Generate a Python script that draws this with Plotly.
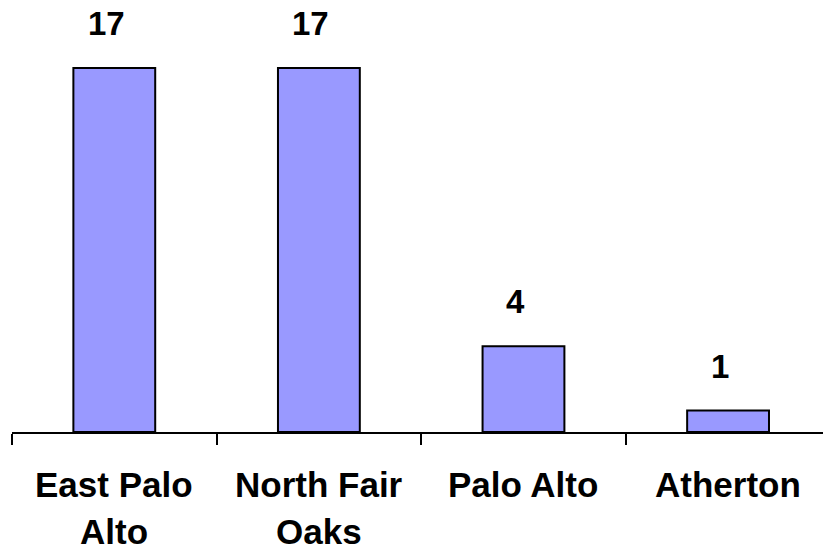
import plotly.graph_objects as go

cities = ["East Palo Alto", "North Fair Oaks", "Palo Alto", "Atherton"]
label_line1 = ["East Palo", "North Fair", "Palo Alto", "Atherton"]
label_line2 = ["Alto", "Oaks", "", ""]
counts = [17, 17, 4, 1]

FONT = "Liberation Sans, Arial, sans-serif"

fig = go.Figure(go.Bar(
    x=cities,
    y=counts,
    width=0.4,
    marker=dict(color="#9999FF", line=dict(color="black", width=2)),
))

# value labels above bars (sit a little left of bar centre, as in the source)
for city, n in zip(cities, counts):
    fig.add_annotation(
        x=city, y=n, text=f"<b>{n}</b>",
        showarrow=False, yanchor="bottom", yshift=24, xshift=-8,
        font=dict(family=FONT, size=33, color="black"),
    )

# category labels (two lines, wider spacing than plotly's default)
for city, l1, l2 in zip(cities, label_line1, label_line2):
    for txt, shift in ((l1, -32), (l2, -79)):
        if txt:
            fig.add_annotation(
                x=city, y=0, yref="paper", text=f"<b>{txt}</b>",
                showarrow=False, yanchor="top", yshift=shift, borderpad=0,
                font=dict(family=FONT, size=35, color="black"),
            )

fig.update_xaxes(
    range=[-0.5, 3.464],
    showline=True, linecolor="black", linewidth=2,
    ticks="outside", tickson="boundaries", ticklen=11, tickwidth=2, tickcolor="black",
    showticklabels=False,
    showgrid=False,
)
fig.update_yaxes(range=[0, 20.18], visible=False, showgrid=False)

fig.update_layout(
    width=823, height=550,
    margin=dict(l=12, r=0, t=0, b=118),
    plot_bgcolor="white", paper_bgcolor="white",
    showlegend=False,
)

fig.write_html(
    "out.html",
    config={"displayModeBar": False},
    post_script="document.body.style.margin='0';",
)
